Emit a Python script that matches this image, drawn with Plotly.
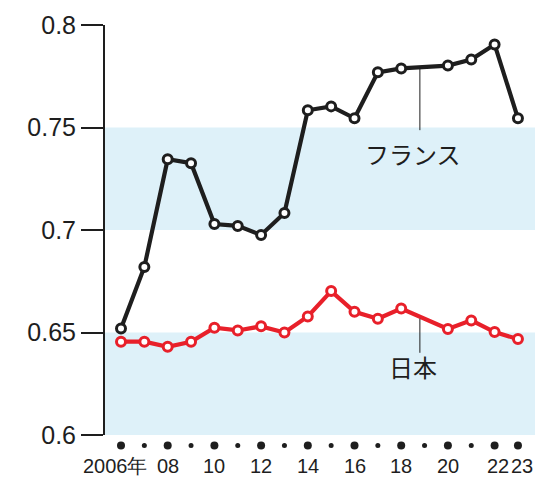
import plotly.graph_objects as go

# Years covered by the two series
years = list(range(2006, 2024))

# France: no survey value for 2019
france = [0.652, 0.682, 0.7345, 0.7326, 0.7029, 0.702, 0.6976, 0.7083, 0.7584,
          0.7603, 0.7545, 0.7769, 0.7788, None, 0.7802, 0.7832, 0.7905, 0.7545]
# Japan: no survey value for 2019
japan = [0.6455, 0.6455, 0.643, 0.6455, 0.6523, 0.651, 0.653, 0.650, 0.6578,
         0.6702, 0.6601, 0.6567, 0.6617, None, 0.6517, 0.6559, 0.6502, 0.6468]

# Axis labels
y_ticks = [0.6, 0.65, 0.7, 0.75, 0.8]
y_ticktext = ["0.6", "0.65", "0.7", "0.75", "0.8"]
x_label_years = [2006, 2008, 2010, 2012, 2014, 2016, 2018, 2020, 2022, 2023]
x_label_text = ["2006年", "08", "10", "12", "14", "16", "18", "20", "22", "23"]

BLACK = "#1e1e1e"
RED = "#e8202a"
BAND = "#def1f9"
TICK_FONT = "Liberation Sans"

fig = go.Figure()

# Alternating background bands
for y0, y1 in [(0.6, 0.65), (0.7, 0.75)]:
    fig.add_shape(type="rect", xref="paper", yref="y", x0=0, x1=1, y0=y0, y1=y1,
                  fillcolor=BAND, line_width=0, layer="below")

# Year dots under the axis: large on labelled years, small otherwise
for yr in years:
    d = 8 if yr in x_label_years else 5
    fig.add_shape(type="circle", xref="x", yref="paper",
                  xsizemode="pixel", ysizemode="pixel",
                  xanchor=yr, yanchor=0, x0=-d / 2, x1=d / 2,
                  y0=-10.5 - d / 2, y1=-10.5 + d / 2,
                  fillcolor=BLACK, line_width=0)

for vals, col in [(france, BLACK), (japan, RED)]:
    fig.add_trace(go.Scatter(
        x=years, y=vals, mode="lines+markers", connectgaps=True,
        line=dict(color=col, width=4.2),
        marker=dict(size=9, color="white", line=dict(color=col, width=3)),
        cliponaxis=False, showlegend=False))

# Series labels with leader lines dropping from the 2018-2020 segment
def midpoint(vals, yr):
    i = years.index(yr)
    return (vals[i - 1] + vals[i + 1]) / 2

LEADER_X = 2018.8
for vals, name, y_end, y_text in [(france, "フランス", 0.7487, 0.7375),
                                  (japan, "日本", 0.6401, 0.6333)]:
    fig.add_shape(type="line", xref="x", yref="y", x0=LEADER_X, x1=LEADER_X,
                  y0=midpoint(vals, 2019), y1=y_end, line=dict(color=BLACK, width=1))
    fig.add_annotation(x=LEADER_X, y=y_text, text=name, showarrow=False, xshift=-7,
                       font=dict(family="Noto Sans CJK JP", size=24, color=BLACK))

# Year labels
for yr, txt in zip(x_label_years, x_label_text):
    shift = {2006: -6, 2022: 3, 2023: 4}.get(yr, 0)
    fig.add_annotation(x=yr, y=0, yref="paper", yanchor="middle", yshift=-31, xshift=shift,
                       text=txt, showarrow=False,
                       font=dict(family=TICK_FONT, size=20, color=BLACK))

fig.update_layout(
    width=560, height=480,
    margin=dict(l=105, r=25, t=24.5, b=44.5),
    plot_bgcolor="white", paper_bgcolor="white",
    xaxis=dict(range=[2005.315, 2023.73], showgrid=False, zeroline=False,
               showticklabels=False, ticks="", showline=False),
    yaxis=dict(range=[0.6, 0.8], tickvals=y_ticks, ticktext=y_ticktext,
               showgrid=False, zeroline=False, showline=True, linecolor=BLACK, linewidth=2,
               ticks="outside", ticklen=22, tickwidth=2, tickcolor=BLACK,
               tickfont=dict(family=TICK_FONT, size=25, color=BLACK)),
)

fig.write_html("out.html")
